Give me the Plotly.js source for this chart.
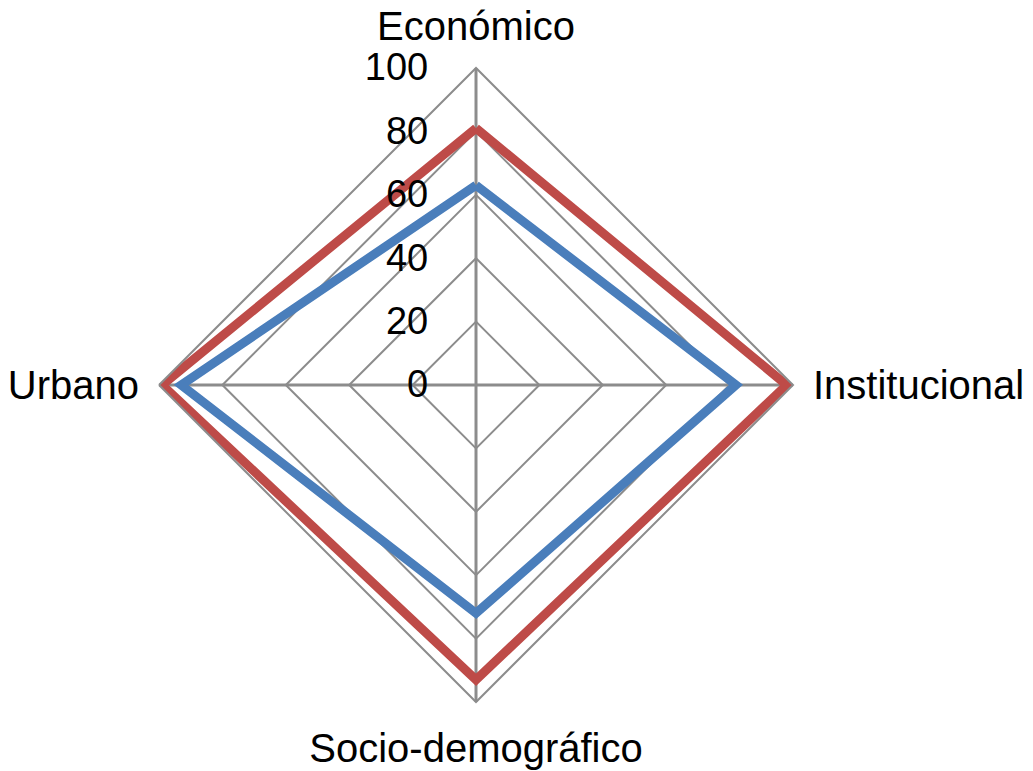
<!DOCTYPE html>
<html><head><meta charset="utf-8">
<script src="https://cdn.plot.ly/plotly-3.0.1.min.js"></script>
<style>html,body{margin:0;padding:0;background:#fff}</style>
</head><body>
<div id="chart" style="width:1033px;height:771px"></div>
<script>
const categories = ["Económico", "Institucional", "Socio-demográfico", "Urbano"];
const seriesBlue = [63, 82, 72, 93];
const seriesRed = [81, 98, 93, 99];
const tickVals = [0, 20, 40, 60, 80, 100];

function closed(a){ return a.concat([a[0]]); }

const traces = [
  {type:'scatterpolar', mode:'lines', r: closed(seriesBlue), theta: closed(categories),
   line:{color:'#4A7EBB', width:9}, name:'Serie 1', hoverinfo:'r+theta'},
  {type:'scatterpolar', mode:'lines', r: closed(seriesRed), theta: closed(categories),
   line:{color:'#BE4B48', width:9}, name:'Serie 2', hoverinfo:'r+theta'}
];

const layout = {
  width:1033, height:771,
  margin:{l:0,r:0,t:0,b:0},
  paper_bgcolor:'#fff', plot_bgcolor:'#fff',
  showlegend:false,
  font:{family:'"Liberation Sans", Arial, sans-serif', color:'#000'},
  polar:{
    domain:{x:[0.1539,0.7677], y:[0.0895,0.9118]},
    gridshape:'linear',
    bgcolor:'#fff',
    angularaxis:{
      rotation:90, direction:'clockwise',
      categoryorder:'array', categoryarray:categories,
      showline:true, linecolor:'#8c8c8c', linewidth:2,
      gridcolor:'#8c8c8c', gridwidth:3,
      ticks:'outside', ticklen:11, tickcolor:'rgba(0,0,0,0)',
      tickfont:{size:40, color:'#000'}
    },
    radialaxis:{
      range:[0,100], tickvals:tickVals, ticktext:tickVals.map(String),
      angle:90, tickangle:90, side:'counterclockwise',
      showline:false, ticks:'outside', ticklen:34, tickcolor:'rgba(0,0,0,0)',
      gridcolor:'#8c8c8c', gridwidth:2,
      tickfont:{size:38, color:'#000'}
    }
  }
};
Plotly.newPlot('chart', traces, layout, {displayModeBar:false});
</script>
</body></html>
